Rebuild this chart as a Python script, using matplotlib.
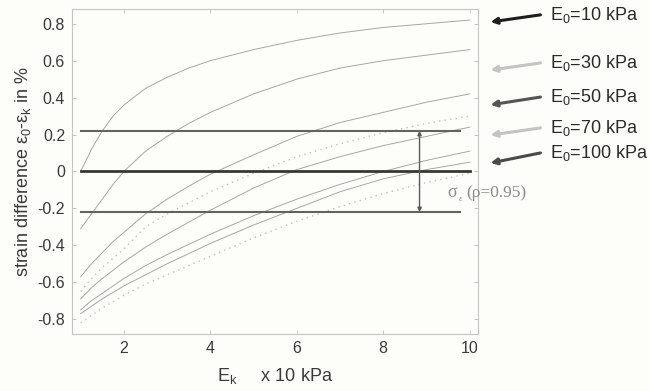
import matplotlib
matplotlib.use('Agg')
import matplotlib.pyplot as plt

plt.rcParams['font.family'] = ['Liberation Sans', 'DejaVu Sans']
plt.rcParams['mathtext.fontset'] = 'custom'
plt.rcParams['mathtext.rm'] = 'Liberation Sans'
plt.rcParams['mathtext.it'] = 'Liberation Sans'
plt.rcParams['mathtext.default'] = 'regular'
plt.rcParams['axes.unicode_minus'] = False

# Ek in units of 10 kPa
ek = [1, 1.25, 1.5, 1.75, 2, 2.5, 3, 3.5, 4, 5, 6, 7, 8, 9, 10]

# solid curves (strain difference in %)
solid_curves = [
    [0.0, 0.12, 0.22, 0.30, 0.36, 0.45, 0.51, 0.56, 0.60, 0.66, 0.71, 0.75, 0.78, 0.80, 0.82],
    [-0.31, -0.23, -0.15, -0.07, 0.0, 0.11, 0.19, 0.26, 0.32, 0.42, 0.50, 0.56, 0.60, 0.63, 0.66],
    [-0.57, -0.50, -0.44, -0.38, -0.33, -0.23, -0.15, -0.08, -0.015, 0.09, 0.19, 0.265, 0.32, 0.375, 0.42],
    [-0.69, -0.63, -0.58, -0.535, -0.49, -0.41, -0.34, -0.275, -0.21, -0.09, 0.01, 0.08, 0.14, 0.19, 0.24],
    [-0.75, -0.70, -0.66, -0.62, -0.58, -0.51, -0.45, -0.395, -0.34, -0.24, -0.15, -0.07, 0.0, 0.06, 0.11],
    [-0.77, -0.73, -0.69, -0.655, -0.62, -0.56, -0.50, -0.445, -0.39, -0.29, -0.20, -0.11, -0.04, 0.01, 0.05],
]

# dotted curves
dotted_curves = [
    [-0.65, -0.58, -0.52, -0.47, -0.42, -0.30, -0.23, -0.17, -0.11, -0.01, 0.08, 0.15, 0.21, 0.26, 0.30],
    [-0.82, -0.78, -0.74, -0.705, -0.67, -0.61, -0.56, -0.51, -0.46, -0.36, -0.27, -0.19, -0.12, -0.06, -0.01],
]

sigma = 0.22          # confidence band (rho = 0.95)
sigma_x = 8.84        # where the double arrow sits
band_end = 9.78

labels = ['E$_0$=10 kPa', 'E$_0$=30 kPa', 'E$_0$=50 kPa', 'E$_0$=70 kPa', 'E$_0$=100 kPa']
label_colors = ['#1e1e1e', '#c4c4c4', '#555555', '#c4c4c4', '#4a4a4a']

xticks = [2, 4, 6, 8, 10]
yticks = [-0.8, -0.6, -0.4, -0.2, 0, 0.2, 0.4, 0.6, 0.8]
yticklabels = ['-0.8', '-0.6', '-0.4', '-0.2', '0', '0.2', '0.4', '0.6', '0.8']

bg = '#fdfdf9'
fig = plt.figure(figsize=(6.49, 3.91), dpi=100, facecolor=bg)
ax = fig.add_axes([0.111, 0.146, 0.626, 0.831], facecolor=bg)

for c in solid_curves:
    ax.plot(ek, c, color='#a6a6a6', lw=0.7)
for c in dotted_curves:
    ax.plot(ek, c, color='#c2c2c2', lw=1.0, ls=(0, (1, 3)))

# confidence band lines
ax.plot([1, band_end], [sigma, sigma], color='#63635a', lw=1.5)
ax.plot([1, 10], [0, 0], color='#38382e', lw=2.0)
ax.plot([1, band_end], [-sigma, -sigma], color='#63635a', lw=1.5)
ax.annotate('', xy=(sigma_x, sigma), xytext=(sigma_x, -sigma),
            arrowprops=dict(arrowstyle='<|-|>', color='#5a5a5a', lw=1.0,
                            mutation_scale=6, shrinkA=0, shrinkB=0))

ax.text(9.48, -0.115, 'σ', family='Liberation Serif', fontsize=13,
        color='#8a8a8a', va='center', clip_on=False)
ax.text(9.74, -0.15, 'ε', family='Liberation Serif', fontsize=6,
        color='#8a8a8a', va='center', clip_on=False)
ax.text(9.92, -0.115, '(ρ=0.95)', family='Liberation Serif', fontsize=12.5,
        color='#8a8a8a', va='center', clip_on=False)

# labels with arrows on the right side
text_y = [0.982, 0.834, 0.729, 0.634, 0.557]
head_y = [0.960, 0.812, 0.705, 0.612, 0.526]
for lab, col, ty, hy in zip(labels, label_colors, text_y, head_y):
    ax.annotate('', xy=(1.030, hy), xytext=(1.153, ty), xycoords='axes fraction',
                textcoords='axes fraction',
                arrowprops=dict(arrowstyle='-|>', color=col, lw=2.2,
                                mutation_scale=9, shrinkA=0, shrinkB=0))
    ax.text(1.177, ty, lab, transform=ax.transAxes, fontsize=13,
            color='#2a2a2a', va='center', ha='left')

ax.set_xlim(0.8, 10.2)
ax.set_ylim(-0.88, 0.88)
ax.set_xticks(xticks)
ax.set_yticks(yticks)
ax.set_yticklabels(yticklabels)
ax.tick_params(direction='in', length=3, width=0.6, color='#bbbbbb',
               labelcolor='#3a3a3a', labelsize=11.5, top=True, right=True, pad=5)
for s in ax.spines.values():
    s.set_color('#c4c4c4')
    s.set_linewidth(0.8)

ax.set_xlabel('E$_k$     x 10 kPa', fontsize=13, color='#3a3a3a', labelpad=7)
ax.set_ylabel('strain difference ε$_0$-ε$_k$ in %', fontsize=13, color='#3a3a3a', labelpad=3)

fig.savefig('out.png', dpi=100, facecolor=bg)
